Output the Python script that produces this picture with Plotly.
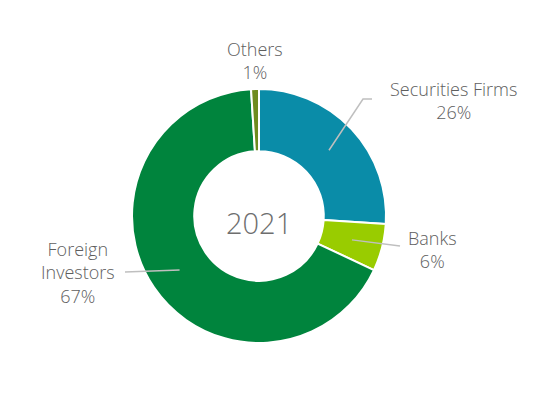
import math
import plotly.graph_objects as go

categories = ["Securities Firms", "Banks", "Foreign Investors", "Others"]
values = [26, 6, 67, 1]
label_texts = ["Securities Firms<br>26%", "Banks<br>6%", "Foreign<br>Investors<br>67%", "Others<br>1%"]
colors = ["#0A8CA8", "#99CC00", "#00843D", "#6E8B1E"]
center_label = "2021"

W, H = 533, 399
OFF = 8  # page body margin
cx, cy, R = 259, 216, 127

def px(x):
    return (x - OFF) / W

def py(y):
    return 1 - (y - OFF) / H

fig = go.Figure(go.Pie(
    labels=categories, values=values, hole=0.51, sort=False, direction="clockwise",
    rotation=0, marker=dict(colors=colors, line=dict(color="white", width=2)),
    textinfo="none", hoverinfo="label+percent", showlegend=False,
    domain=dict(x=[px(cx - R), px(cx + R)], y=[py(cy + R), py(cy - R)]),
))

FAM = "'Open Sans', Lato, sans-serif"
font = dict(family=FAM, size=18, color="#5E5E5E", weight=300)

label_pos = [(453, 100), (432, 249), (78, 272), (255, 61)]
line_ends = [[(363, 99), (372, 99)], [(400, 246)], [(125, 272)], None]

total = sum(values)
cum = 0
shapes = []
annotations = []
for i, v in enumerate(values):
    mid = (cum + v / 2) / total * 2 * math.pi
    cum += v
    ax = cx + 96 * math.sin(mid)
    ay = cy - 96 * math.cos(mid)
    lx, ly = label_pos[i]
    annotations.append(dict(x=px(lx), y=py(ly), xref="paper", yref="paper", text=label_texts[i],
                            showarrow=False, font=font, align="center", xanchor="center", yanchor="middle"))
    if line_ends[i]:
        pts = [(ax, ay)] + line_ends[i]
        path = "M " + " L ".join(f"{px(x)},{py(y)}" for x, y in pts)
        shapes.append(dict(type="path", path=path, xref="paper", yref="paper",
                           line=dict(color="#BFBFBF", width=1.5)))

annotations.append(dict(x=px(cx), y=py(cy + 6), xref="paper", yref="paper", text=center_label,
                        showarrow=False, font=dict(family=FAM, size=29, color="#6E6E6E", weight=300),
                        xanchor="center", yanchor="middle"))

fig.update_layout(width=W, height=H, margin=dict(l=0, r=0, t=0, b=0),
                  paper_bgcolor="white", plot_bgcolor="white",
                  shapes=shapes, annotations=annotations)
fig.write_html("out.html")
